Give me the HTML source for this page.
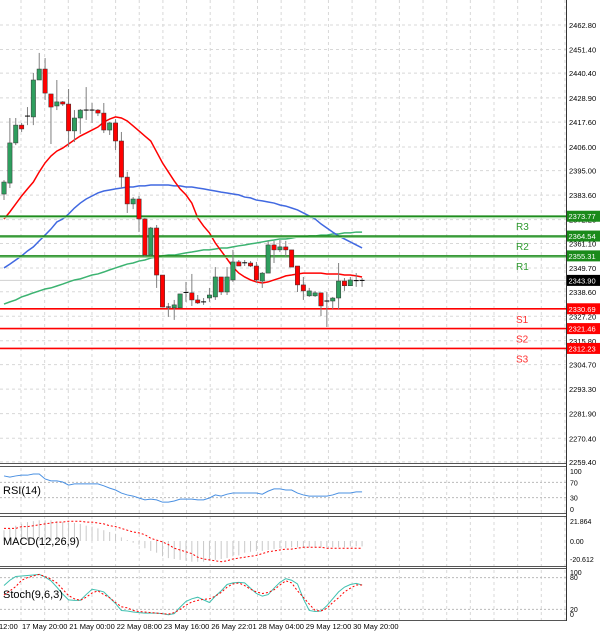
<!DOCTYPE html>
<html><head><meta charset="utf-8"><style>
html,body{margin:0;padding:0;background:#fff;}
svg{display:block;font-family:"Liberation Sans",sans-serif;}
</style></head><body>
<svg id="chart" width="600" height="634" viewBox="0 0 600 634" xmlns="http://www.w3.org/2000/svg"></svg>
<script>
// ---- data ----
const candleO=[2384.1,2389.2,2407.9,2416.2,2420.0,2420.0,2437.2,2442.3,2430.7,2425.1,2427.0,2426.0,2413.5,2419.5,2423.2,2423.0,2423.2,2421.8,2413.9,2417.2,2408.8,2392.0,2379.5,2381.8,2372.5,2355.7,2368.3,2346.4,2331.5,2331.1,2331.1,2338.1,2338.1,2334.8,2333.9,2335.7,2336.2,2345.5,2338.5,2344.1,2352.5,2352.0,2352.0,2350.6,2343.6,2347.3,2360.4,2358.1,2359.5,2358.1,2350.6,2341.8,2336.7,2336.7,2338.1,2334.3,2334.3,2335.7,2343.6,2341.4,2343.6,2343.8];
const candleH=[2390.6,2419.5,2419.5,2417.2,2424.6,2440.5,2449.8,2447.4,2430.7,2437.2,2427.4,2433.0,2423.2,2423.7,2433.9,2426.5,2423.7,2426.5,2417.6,2419.0,2413.0,2394.4,2382.7,2383.2,2373.0,2368.8,2369.7,2346.4,2333.4,2334.8,2337.6,2343.2,2346.9,2337.1,2335.7,2340.4,2350.1,2345.5,2350.1,2358.1,2353.4,2353.4,2352.9,2352.5,2347.8,2362.3,2362.3,2362.7,2362.3,2358.1,2350.6,2345.5,2340.4,2339.0,2338.1,2338.5,2336.2,2352.0,2345.0,2345.5,2347.3,2345.0];
const candleL=[2381.3,2386.9,2406.9,2413.0,2416.2,2416.2,2437.2,2427.9,2407.4,2423.2,2425.1,2406.0,2408.3,2412.1,2418.6,2417.2,2420.4,2412.5,2411.6,2404.6,2386.9,2375.3,2377.1,2366.4,2354.8,2355.3,2340.4,2331.5,2326.9,2325.5,2331.1,2333.9,2332.0,2332.9,2332.5,2333.9,2334.8,2337.1,2337.1,2343.2,2350.6,2350.6,2350.1,2342.7,2340.4,2347.3,2352.0,2357.1,2354.8,2350.1,2338.5,2334.8,2336.2,2336.2,2327.3,2322.2,2330.6,2330.6,2339.0,2341.4,2340.9,2340.9];
const candleC=[2389.7,2407.9,2416.2,2414.4,2420.4,2437.2,2442.3,2431.1,2424.6,2427.0,2426.0,2413.5,2419.5,2423.2,2423.0,2423.2,2421.8,2413.9,2417.2,2408.8,2392.0,2379.5,2381.8,2372.5,2355.7,2368.3,2346.4,2331.5,2331.3,2332.5,2337.6,2338.3,2334.8,2333.4,2333.9,2337.1,2345.5,2338.5,2345.5,2352.5,2350.6,2352.1,2350.6,2344.1,2347.3,2360.4,2358.1,2359.5,2358.1,2350.1,2341.8,2339.0,2339.0,2338.1,2332.0,2334.1,2335.7,2343.6,2341.4,2344.1,2343.8,2343.9];
const maFast=[2372.5,2375.8,2379.5,2383.2,2386.5,2389.7,2394.4,2398.6,2401.8,2404.1,2405.5,2407.4,2409.3,2411.1,2412.5,2413.9,2415.3,2417.6,2419.0,2420.0,2419.5,2418.1,2415.8,2413.5,2411.1,2408.8,2403.7,2398.6,2394.4,2390.2,2386.5,2383.7,2379.9,2373.0,2369.2,2366.0,2361.3,2357.6,2353.9,2350.1,2347.3,2345.5,2344.1,2343.2,2342.7,2343.2,2344.1,2345.0,2346.0,2346.4,2346.9,2347.3,2347.3,2347.3,2347.3,2346.9,2346.9,2346.9,2346.4,2346.4,2346.0,2345.5];
const maMid=[2349.7,2351.5,2353.4,2355.3,2357.6,2359.5,2362.3,2365.0,2367.8,2371.1,2372.5,2374.8,2377.6,2379.9,2381.8,2383.2,2384.6,2385.5,2386.0,2386.5,2386.9,2387.4,2387.4,2387.9,2387.9,2388.3,2388.3,2388.3,2388.3,2387.9,2387.9,2387.4,2387.4,2386.9,2386.5,2386.0,2385.5,2385.0,2384.6,2384.1,2383.7,2382.7,2382.3,2381.3,2380.9,2380.4,2379.9,2379.0,2378.5,2377.6,2376.7,2375.3,2373.9,2372.5,2370.2,2368.3,2366.4,2364.6,2363.2,2361.8,2360.4,2359.0];
const maSlow=[2332.9,2333.9,2334.8,2336.2,2337.1,2338.1,2339.0,2339.9,2340.4,2341.3,2342.2,2343.2,2344.1,2344.6,2345.5,2346.4,2346.9,2347.8,2348.8,2349.7,2350.6,2351.5,2352.0,2352.9,2353.4,2354.3,2354.8,2355.3,2355.7,2355.7,2356.2,2356.7,2357.1,2357.6,2358.1,2358.1,2358.5,2359.0,2359.0,2359.5,2360.0,2360.4,2360.9,2361.3,2361.8,2362.3,2362.7,2363.2,2363.2,2363.6,2364.1,2364.1,2364.6,2364.6,2365.0,2365.0,2365.5,2365.5,2366.0,2366.0,2366.4,2366.4];
const pivotNames=["R3","R2","R1","S1","S2","S3"];
const pivotValues=[2373.77,2364.54,2355.31,2330.69,2321.46,2312.23];
const priceTicks=[2462.80,2451.40,2440.40,2428.90,2417.60,2406.00,2395.00,2383.60,2372.20,2361.10,2349.70,2338.60,2327.20,2315.80,2304.70,2293.30,2281.90,2270.40,2259.40];
const lastPrice=2343.90;
const rsiValues=[87,84,87,89,89,92,92,79,74,74,71,63,66,66,66,66,66,61,55,50,42,37,34,29,24,26,24,18,18,21,26,26,26,24,24,29,37,34,39,42,42,42,42,42,39,47,53,53,50,50,42,37,34,34,34,34,37,42,42,42,45,45];
const macdHist=[12,14,17,19,21,22,23,23,23,22,21,20,20,19,17,16,14,12,10,8,4,1,-2,-4,-8,-11,-13,-17,-19,-20,-21,-22,-23,-23,-23,-22,-21,-20,-19,-17,-16,-13,-12,-11,-11,-10,-9,-8,-8,-7,-7,-7,-7,-7,-7,-7,-7,-7,-7,-6,-6,-6];
const macdSignal=[14,14,14,16,16,17,18,19,20,21,21,22,22,22,21,21,20,19,17,16,14,12,10,9,7,3,1,-1,-4,-8,-10,-12,-14,-18,-20,-21,-22,-23,-22,-20,-19,-18,-17,-16,-14,-12,-11,-10,-9,-9,-8,-7,-7,-7,-7,-8,-8,-8,-8,-8,-8,-8];
const stochMain=[65,75,82,83,84,85,86,81,74,62,49,38,37,37,48,58,56,53,42,31,18,17,15,14,13,13,13,12,10,12,24,35,40,43,38,33,45,55,67,70,71,70,60,50,45,48,60,71,78,75,68,40,18,16,17,27,40,53,62,67,69,66];
const stochSignal=[47,55,63,75,80,83,86,82,77,70,58,46,40,37,43,51,55,48,42,33,25,23,18,16,15,14,13,12,11,14,20,28,34,37,39,40,45,52,62,68,70,65,58,53,50,52,57,66,74,70,55,43,30,18,17,22,33,42,53,60,66,66];
const dateLabels=["12:00","17 May 20:00","21 May 00:00","22 May 08:00","23 May 16:00","26 May 22:01","28 May 04:00","29 May 12:00","30 May 20:00"];

// ---- axes ----
const svg=document.getElementById('chart');
const NS="http://www.w3.org/2000/svg";
const PLOT_R=566;
const xAt=i=>4+i*5.87;
const yP=p=>25+(2462.8-p)*2.148;
const yRSI=v=>509-v*0.38;
const yMACD=v=>541-v*0.9;
const ySto=v=>620-v*0.53;
function mk(tag,attrs,parent){const e=document.createElementNS(NS,tag);for(const k in attrs)e.setAttribute(k,attrs[k]);(parent||svg).appendChild(e);return e;}
function txt(x,y,s,attrs){const t=mk('text',Object.assign({x:x,y:y,'font-size':7.5,fill:'#000'},attrs||{}));t.textContent=s;return t;}

const grid=mk('g',{});


for(let gx=21;gx<PLOT_R;gx+=23.65){mk('line',{x1:gx,x2:gx,y1:0,y2:620,stroke:'#d8d8d8','stroke-dasharray':'3,3','stroke-width':1},grid);}
priceTicks.forEach(p=>{mk('line',{x1:0,x2:PLOT_R,y1:yP(p),y2:yP(p),stroke:'#d8d8d8','stroke-dasharray':'3,3'},grid);});
[70,30].forEach(v=>mk('line',{x1:0,x2:PLOT_R,y1:yRSI(v),y2:yRSI(v),stroke:'#bbb','stroke-dasharray':'2,2'},grid));
[80,20].forEach(v=>mk('line',{x1:0,x2:PLOT_R,y1:ySto(v),y2:ySto(v),stroke:'#bbb','stroke-dasharray':'2,2'},grid));

const axis=mk('g',{});


priceTicks.forEach(p=>{const t=txt(569,yP(p)+3,p.toFixed(2));axis.appendChild(t);});

mk('line',{x1:0,x2:PLOT_R,y1:yP(lastPrice),y2:yP(lastPrice),stroke:'#d0d0d0'});

function poly(vals,fy,color,name,dash,w){
  const pl=mk('polyline',{points:vals.map((v,i)=>xAt(i)+','+fy(v)).join(' '),fill:'none',stroke:color,'stroke-width':w||1.5});
  if(dash)pl.setAttribute('stroke-dasharray',dash);
  
  
  return pl;
}
poly(maSlow,yP,'#3cb371','ma-slow-line');
poly(maMid,yP,'#4169e1','ma-mid-line');
poly(maFast,yP,'#ff0000','ma-fast-line');

pivotValues.forEach((v,k)=>{
  const isR=pivotNames[k][0]==='R';
  const col=isR?'#1e8c1e':'#ff0000';
  const g=mk('g',{});
  
  
  const y=yP(v);
  if(isR)mk('line',{x1:0,x2:PLOT_R,y1:y+1.5,y2:y+1.5,stroke:'#90d090','stroke-width':1},g);
  mk('line',{x1:0,x2:PLOT_R,y1:y,y2:y,stroke:col,'stroke-width':1.6},g);
  const t=txt(516,y+14,pivotNames[k],{'font-size':10,fill:isR?'#2e9a2e':'#ff3030'});g.appendChild(t);
  mk('rect',{x:567,y:y-5.5,width:33,height:11,fill:isR?'#1a8a1a':'#ff0000'},g);
  const lt=txt(568.5,y+3,v.toFixed(2),{fill:'#fff','font-size':7.5});g.appendChild(lt);
});
mk('rect',{x:567,y:yP(lastPrice)-5.5,width:33,height:11,fill:'#000'});
txt(568.5,yP(lastPrice)+3,lastPrice.toFixed(2),{fill:'#fff'});

const cg=mk('g',{});


candleO.forEach((o,i)=>{
  const c=candleC[i],x=xAt(i);
  const g=mk('g',{},cg);
  
  
  mk('line',{x1:x,x2:x,y1:yP(candleH[i]),y2:yP(candleL[i]),stroke:'#808080','stroke-width':1},g);
  const top=yP(Math.max(o,c)),bot=yP(Math.min(o,c));
  const h=Math.max(1,bot-top);
  if(h<=1.5){mk('line',{x1:x-2.5,x2:x+2.5,y1:top,y2:top,stroke:'#000','stroke-width':1},g);}
  else mk('rect',{x:x-2.2,y:top,width:4.4,height:h,fill:c>=o?'#2e9e5e':'#ff0000',stroke:'#333','stroke-width':0.5},g);
});

[[463,467],[513,517],[566,569]].forEach(([a,b])=>{mk('rect',{x:0,y:a,width:PLOT_R,height:b-a,fill:'#fff'});mk('line',{x1:0,x2:PLOT_R,y1:a+0.5,y2:a+0.5,stroke:'#555'});mk('line',{x1:0,x2:PLOT_R,y1:b-0.5,y2:b-0.5,stroke:'#555'});});
mk('line',{x1:0,x2:PLOT_R,y1:620.5,y2:620.5,stroke:'#555'});
mk('line',{x1:PLOT_R+0.5,x2:PLOT_R+0.5,y1:0,y2:621,stroke:'#333'});

poly(rsiValues,yRSI,'#4a90e2','rsi-line',null,1);
txt(3,494,'RSI(14)',{'font-size':11});
[[100,'100'],[70,'70'],[30,'30'],[0,'0']].forEach(([v,s])=>txt(570,yRSI(v)+3,s,{'font-size':7}));

const mg=mk('g',{});


macdHist.forEach((v,i)=>{mk('line',{x1:xAt(i),x2:xAt(i),y1:yMACD(0),y2:yMACD(v),stroke:'#c8c8c8','stroke-width':1},mg);});
poly(macdSignal,yMACD,'#ff0000','macd-signal-line','2,2',1);
txt(3,545,'MACD(12,26,9)',{'font-size':11});
txt(570,524,'21.864',{'font-size':7});txt(570,544,'0.00',{'font-size':7});txt(570,562,'-20.612',{'font-size':7});

poly(stochMain,ySto,'#40c0b0','stoch-main-line',null,1);
poly(stochSignal,ySto,'#ff0000','stoch-signal-line','2,2',1);
txt(3,598,'Stoch(9,6,3)',{'font-size':11});
txt(570,575,'100',{'font-size':7});txt(570,580,'80',{'font-size':7});txt(570,612,'20',{'font-size':7});txt(570,617,'0',{'font-size':7});

const dg=mk('g',{});


dateLabels.forEach((s,k)=>{const x=k===0?-2:21+(k-1)*47.3;const t=txt(x+1,629,s,{'font-size':7.5});dg.appendChild(t);});
</script>
</body></html>
